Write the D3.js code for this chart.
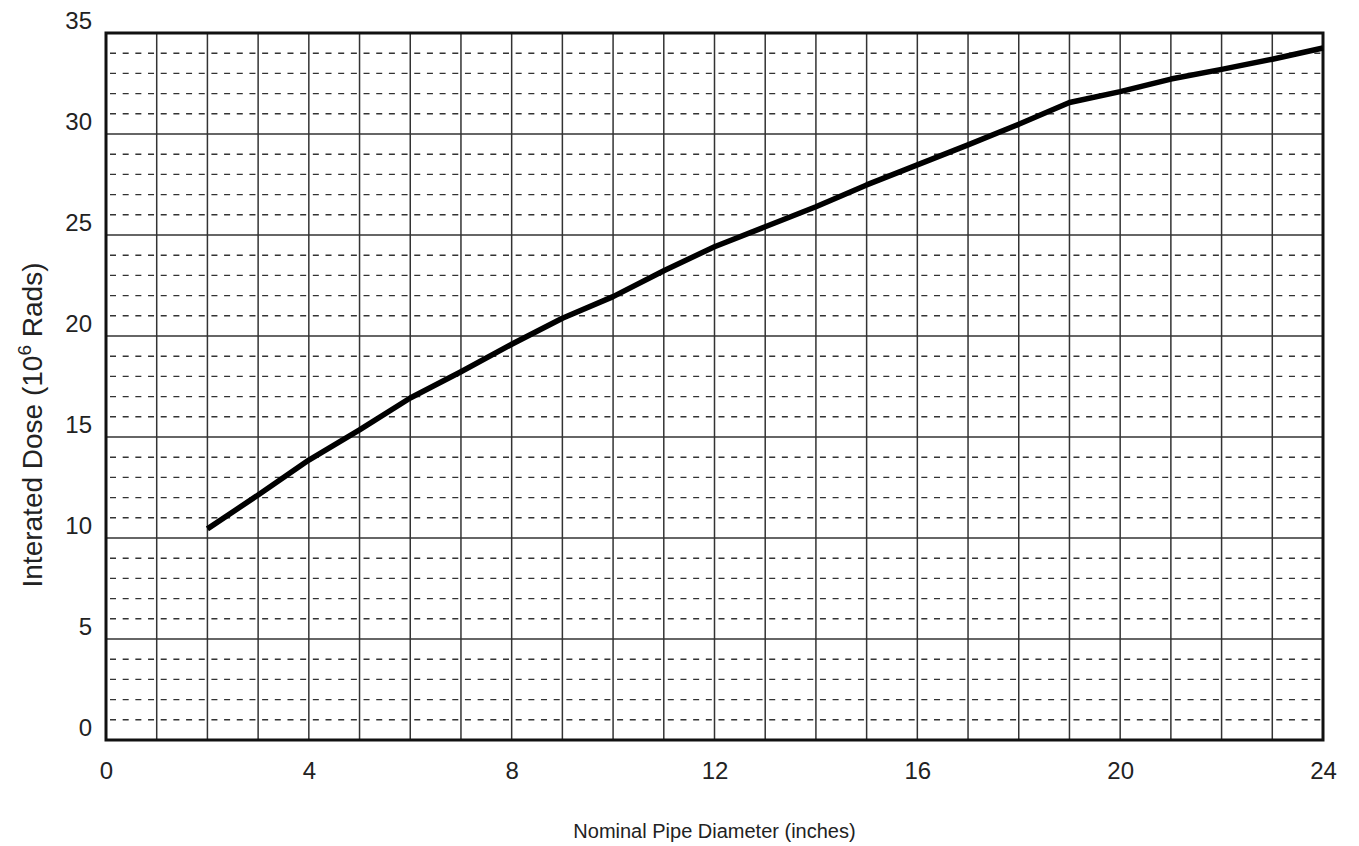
<!DOCTYPE html>
<html>
<head>
<meta charset="utf-8">
<script src="https://cdn.jsdelivr.net/npm/d3@7"></script>
<style>
  html, body { margin: 0; padding: 0; background: #fff; }
  svg { display: block; font-family: "Liberation Sans", Arial, Helvetica, sans-serif; }
</style>
</head>
<body>
<svg id="chart" width="1359" height="846"></svg>
<script>
// Integrated dose vs nominal pipe diameter
const diameters = [2, 3, 4, 5, 6, 7, 8, 9, 10, 11, 12, 13, 14, 15, 16, 17, 18, 19, 20, 21, 22, 23, 24];
const doses = [10.45, 12.13, 13.86, 15.35, 16.93, 18.23, 19.59, 20.88, 21.95, 23.23, 24.42, 25.41,
               26.40, 27.48, 28.47, 29.46, 30.48, 31.56, 32.10, 32.72, 33.20, 33.70, 34.26];

const xTickValues = [0, 4, 8, 12, 16, 20, 24];
const yTickValues = [0, 5, 10, 15, 20, 25, 30, 35];
const xDomain = [0, 24];
const yDomain = [0, 35];

const W = 1359, H = 846;
const margin = { top: 33, right: 36, bottom: 106, left: 106 };
const innerW = W - margin.left - margin.right;
const innerH = H - margin.top - margin.bottom;

const svg = d3.select("#chart");
const g = svg.append("g").attr("transform", `translate(${margin.left},${margin.top})`);

const x = d3.scaleLinear().domain(xDomain).range([0, innerW]);
const y = d3.scaleLinear().domain(yDomain).range([innerH, 0]);

// Minor horizontal grid (dashed), every unit except the major ones
const minorY = d3.range(1, 35).filter(v => v % 5 !== 0);
const cellW = x(1) - x(0);
g.append("g").selectAll("line").data(minorY).join("line")
  .attr("x1", 0).attr("x2", innerW)
  .attr("y1", d => y(d)).attr("y2", d => y(d))
  .attr("stroke", "#333").attr("stroke-width", 1.4)
  .attr("stroke-dasharray", `6,${cellW / 4 - 6}`)
  .attr("stroke-dashoffset", -4);

// Major horizontal grid (solid)
g.append("g").selectAll("line").data(d3.range(5, 35, 5)).join("line")
  .attr("x1", 0).attr("x2", innerW)
  .attr("y1", d => y(d)).attr("y2", d => y(d))
  .attr("stroke", "#333").attr("stroke-width", 1.5);

// Vertical grid (solid), every unit
g.append("g").selectAll("line").data(d3.range(1, 24)).join("line")
  .attr("x1", d => x(d)).attr("x2", d => x(d))
  .attr("y1", 0).attr("y2", innerH)
  .attr("stroke", "#333").attr("stroke-width", 1.5);

// Frame
g.append("rect")
  .attr("x", 0).attr("y", 0).attr("width", innerW).attr("height", innerH)
  .attr("fill", "none").attr("stroke", "#111").attr("stroke-width", 3);

// Axes
const xAxis = g.append("g").attr("transform", `translate(0,${innerH})`)
  .call(d3.axisBottom(x).tickValues(xTickValues).tickSize(0).tickPadding(22).tickFormat(d3.format("d")));
const yAxis = g.append("g")
  .call(d3.axisLeft(y).tickValues(yTickValues).tickSize(0).tickPadding(14).tickFormat(d3.format("d")));
[xAxis, yAxis].forEach(a => {
  a.select(".domain").remove();
  a.selectAll("text").attr("font-size", 24).attr("fill", "#222")
    .attr("font-family", "'Liberation Sans', Arial, sans-serif");
});
yAxis.selectAll(".tick text").attr("transform", "translate(0,-12)");

// Curve
const line = d3.line().x((d, i) => x(diameters[i])).y(d => y(d));
g.append("path")
  .datum(doses)
  .attr("d", line)
  .attr("fill", "none")
  .attr("stroke", "#000")
  .attr("stroke-width", 5.5)
  .attr("stroke-linejoin", "round");

// Axis titles
svg.append("text")
  .attr("x", margin.left + innerW / 2).attr("y", 838)
  .attr("text-anchor", "middle")
  .attr("font-size", 20).attr("fill", "#222")
  .text("Nominal Pipe Diameter (inches)");

const yt = svg.append("text")
  .attr("transform", "translate(42,425) rotate(-90)")
  .attr("text-anchor", "middle")
  .attr("font-size", 28).attr("fill", "#222");
yt.append("tspan").text("Interated Dose (10");
yt.append("tspan").attr("font-size", 19).attr("dy", -11).text("6");
yt.append("tspan").attr("dy", 11).text(" Rads)");
</script>
</body>
</html>
